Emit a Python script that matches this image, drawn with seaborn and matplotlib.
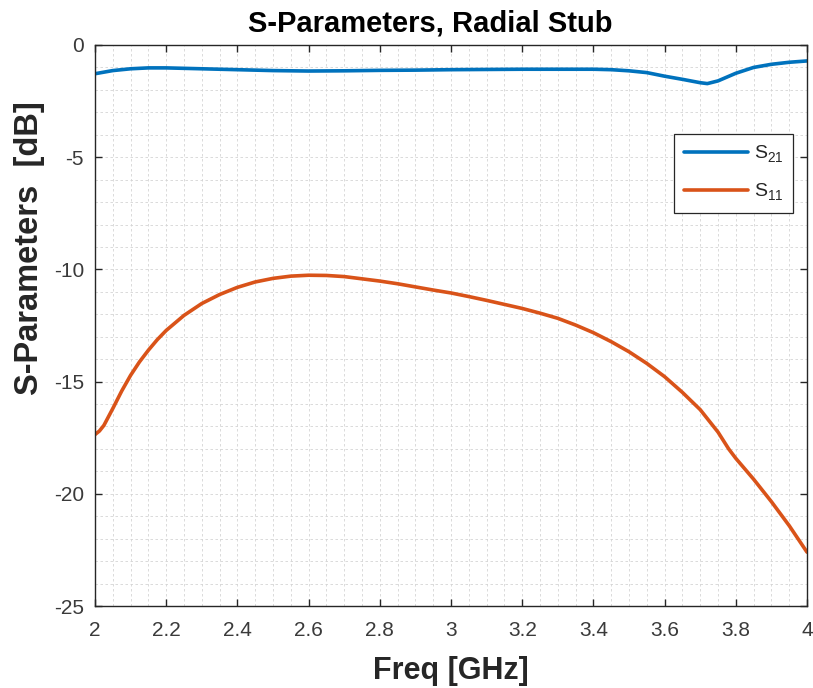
import numpy as np
import pandas as pd
import matplotlib
matplotlib.use("Agg")
import matplotlib.pyplot as plt
from matplotlib.ticker import MultipleLocator, FormatStrFormatter
import seaborn as sns

# Frequency sweep (GHz) and measured S-parameters (dB)
freq_s21 = [2.00, 2.05, 2.10, 2.15, 2.20, 2.30, 2.40, 2.50, 2.60, 2.70, 2.80,
            2.90, 3.00, 3.10, 3.20, 3.30, 3.40, 3.45, 3.50, 3.55, 3.60, 3.65,
            3.70, 3.72, 3.75, 3.80, 3.85, 3.90, 3.95, 4.00]
s21_db = [-1.28, -1.14, -1.06, -1.02, -1.02, -1.06, -1.10, -1.14, -1.16, -1.15, -1.13,
          -1.12, -1.10, -1.09, -1.08, -1.08, -1.08, -1.10, -1.15, -1.23, -1.39, -1.53,
          -1.68, -1.72, -1.60, -1.26, -1.00, -0.86, -0.77, -0.71]

freq_s11 = [2.00, 2.0125, 2.025, 2.05, 2.075, 2.10, 2.125, 2.15, 2.175, 2.20, 2.25,
            2.30, 2.35, 2.40, 2.45, 2.50, 2.55, 2.60, 2.65, 2.70, 2.75, 2.80,
            2.85, 2.90, 2.95, 3.00, 3.05, 3.10, 3.15, 3.20, 3.25, 3.30, 3.35,
            3.40, 3.45, 3.50, 3.55, 3.60, 3.65, 3.70, 3.75, 3.78, 3.80, 3.85,
            3.90, 3.95, 4.00]
s11_db = [-17.36, -17.20, -16.95, -16.20, -15.42, -14.72, -14.12, -13.60, -13.13, -12.72, -12.05,
          -11.52, -11.12, -10.80, -10.56, -10.40, -10.30, -10.26, -10.27, -10.32, -10.42, -10.52,
          -10.64, -10.78, -10.92, -11.05, -11.21, -11.38, -11.56, -11.74, -11.95, -12.18, -12.48,
          -12.82, -13.22, -13.67, -14.19, -14.78, -15.48, -16.25, -17.25, -18.00, -18.42, -19.35,
          -20.35, -21.42, -22.60]

series_labels = [r"S$_{21}$", r"S$_{11}$"]
series_colors = ["#0072BD", "#D95319"]

sns.set_theme(style="white")
plt.rcParams["font.family"] = ["Liberation Sans", "DejaVu Sans"]
plt.rcParams["mathtext.fontset"] = "custom"
plt.rcParams["mathtext.rm"] = "Liberation Sans"
plt.rcParams["mathtext.it"] = "Liberation Sans"
plt.rcParams["axes.unicode_minus"] = False

# lower subscripts a little, in the style of the legend entries
try:
    from matplotlib import _mathtext
    _mathtext.FontConstantsBase.sub1 = 0.45
    _mathtext.FontConstantsBase.sub2 = 0.55
except Exception:
    pass

df21 = pd.DataFrame({"freq": freq_s21, "db": s21_db})
df11 = pd.DataFrame({"freq": freq_s11, "db": s11_db})

fig = plt.figure(figsize=(8.13, 6.88), dpi=100)
ax = fig.add_axes([95 / 813, 1 - 606 / 688, 712 / 813, 561 / 688])

sns.lineplot(data=df21, x="freq", y="db", ax=ax, color=series_colors[0],
             linewidth=2.6, label=series_labels[0], sort=True)
sns.lineplot(data=df11, x="freq", y="db", ax=ax, color=series_colors[1],
             linewidth=2.6, label=series_labels[1], sort=True)

ax.set_xlim(2, 4)
ax.set_ylim(-25, 0)
ax.xaxis.set_major_locator(MultipleLocator(0.2))
ax.xaxis.set_minor_locator(MultipleLocator(0.05))
ax.yaxis.set_major_locator(MultipleLocator(5))
ax.yaxis.set_minor_locator(MultipleLocator(1))
ax.xaxis.set_major_formatter(FormatStrFormatter("%g"))
ax.yaxis.set_major_formatter(FormatStrFormatter("%g"))

grid_kw = dict(color="#d4d4d4", linestyle=(0, (3, 3)), linewidth=0.6)
ax.grid(True, which="major", **grid_kw)
ax.grid(True, which="minor", **grid_kw)
ax.set_axisbelow(True)

for sp in ax.spines.values():
    sp.set_color("#262626")
    sp.set_linewidth(1.0)
    sp.set_visible(True)

ax.tick_params(axis="both", which="major", direction="in", length=5, width=1,
               color="#262626", labelcolor="#3a3a3a", labelsize=15,
               top=True, right=True, bottom=True, left=True)
ax.tick_params(axis="x", which="major", pad=11)
ax.tick_params(axis="y", which="major", pad=8)
ax.tick_params(which="minor", length=0)

ax.set_xlabel("Freq [GHz]", fontsize=22, fontweight="bold", color="#262626", labelpad=11)
ax.set_ylabel("S-Parameters  [dB]", fontsize=23.5, fontweight="bold", color="#262626",
              va="center")
ax.yaxis.set_label_coords((30 - 95) / 712, (606 - 248) / 561)
ax.set_title("S-Parameters, Radial Stub", fontsize=21, fontweight="bold",
             color="#000000", x=(430 - 95) / 712, pad=10)

leg = ax.legend(loc="upper right", bbox_to_anchor=((793 - 95) / 712, (606 - 134) / 561),
                borderaxespad=0, fontsize=14, handlelength=3.3, handletextpad=0.3,
                labelspacing=0.85, fancybox=False, framealpha=1, edgecolor="#262626",
                borderpad=0.5)
leg.get_frame().set_linewidth(0.9)

fig.savefig("out.png", dpi=100)
